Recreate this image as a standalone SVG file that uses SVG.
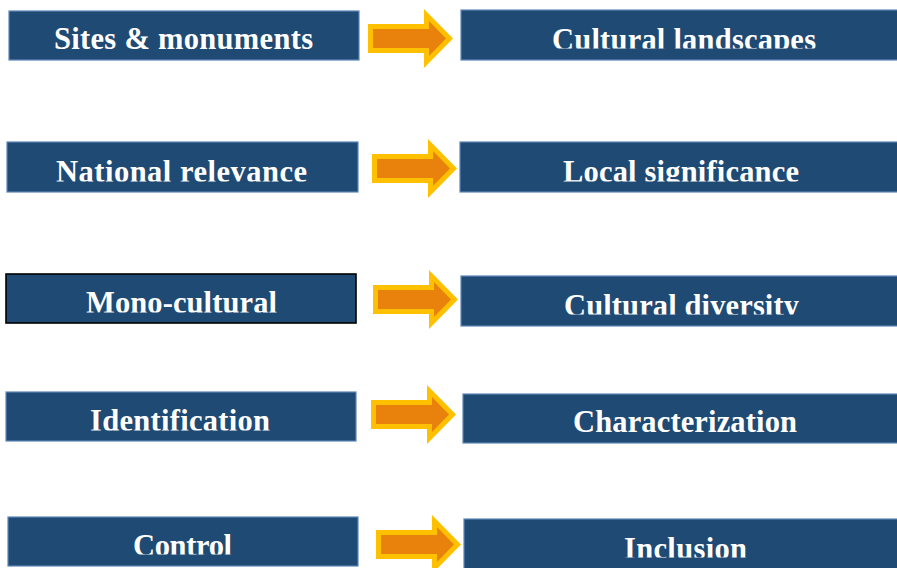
<svg xmlns="http://www.w3.org/2000/svg" width="897" height="568" viewBox="0 0 897 568">
<style>
.box{fill:#1F4A73;stroke:#5B86B8;stroke-width:1.2}
.box.dark{stroke:#000;stroke-width:1.6}
.lbl{font-family:"Liberation Serif","Times New Roman",serif;font-weight:bold;font-size:30.5px;fill:#fff;text-anchor:middle}
</style>
<defs>
<g id="arrow">
<polygon points="0,15 56,15 56,0 85,29.5 56,59 56,44 0,44" fill="#FFC000"/>
<polygon points="5,20 61,20 61,12 78,29.5 61,47 61,39 5,39" fill="#E8820C"/>
</g>
<clipPath id="c1l"><rect x="0" y="0" width="460" height="50"/></clipPath>
<clipPath id="c1r"><rect x="460" y="0" width="437" height="48.5"/></clipPath>
<clipPath id="c2"><rect x="0" y="130" width="897" height="51.5"/></clipPath>
<clipPath id="c3l"><rect x="0" y="270" width="460" height="42.5"/></clipPath>
<clipPath id="c3r"><rect x="460" y="270" width="437" height="44.5"/></clipPath>
<clipPath id="c4l"><rect x="0" y="385" width="460" height="45.5"/></clipPath>
<clipPath id="c5l"><rect x="0" y="510" width="460" height="44.5"/></clipPath>
<clipPath id="c5r"><rect x="460" y="510" width="437" height="47.5"/></clipPath>
</defs>
<g id="connectors">
<use href="#arrow" transform="translate(368,9)"/>
<use href="#arrow" transform="translate(372,139)"/>
<use href="#arrow" transform="translate(373,270)"/>
<use href="#arrow" transform="translate(371,385)"/>
<use href="#arrow" transform="translate(376,515)"/>
</g>
<g id="sites-monuments">
<rect class="box" x="9" y="11" width="350" height="49"/>
<text class="lbl" x="183.5" y="49" textLength="259" clip-path="url(#c1l)">Sites &amp; monuments</text>
</g>
<g id="cultural-landscapes">
<rect class="box" x="461" y="10" width="450" height="50"/>
<text class="lbl" x="684" y="50" textLength="264" clip-path="url(#c1r)">Cultural landscapes</text>
</g>
<g id="national-relevance">
<rect class="box" x="7" y="142" width="351" height="50"/>
<text class="lbl" x="181.5" y="182" textLength="251" clip-path="url(#c2)">National relevance</text>
</g>
<g id="local-significance">
<rect class="box" x="460" y="142" width="450" height="50"/>
<text class="lbl" x="681" y="182" textLength="236" clip-path="url(#c2)">Local significance</text>
</g>
<g id="mono-cultural">
<rect class="box dark" x="6" y="274" width="350" height="49"/>
<text class="lbl" x="181.5" y="313" textLength="191" clip-path="url(#c3l)">Mono-cultural</text>
</g>
<g id="cultural-diversity">
<rect class="box" x="461" y="276" width="450" height="50"/>
<text class="lbl" x="681.5" y="316" textLength="235" clip-path="url(#c3r)">Cultural diversity</text>
</g>
<g id="identification">
<rect class="box" x="6" y="392" width="350" height="49"/>
<text class="lbl" x="180" y="431" textLength="180" clip-path="url(#c4l)">Identification</text>
</g>
<g id="characterization">
<rect class="box" x="463" y="394" width="450" height="49"/>
<text class="lbl" x="685" y="432" textLength="224">Characterization</text>
</g>
<g id="control">
<rect class="box" x="8" y="517" width="350" height="49"/>
<text class="lbl" x="182.5" y="556" textLength="99" clip-path="url(#c5l)">Control</text>
</g>
<g id="inclusion">
<rect class="box" x="464" y="519" width="450" height="60"/>
<text class="lbl" x="685.5" y="559" textLength="123" clip-path="url(#c5r)">Inclusion</text>
</g>
</svg>
